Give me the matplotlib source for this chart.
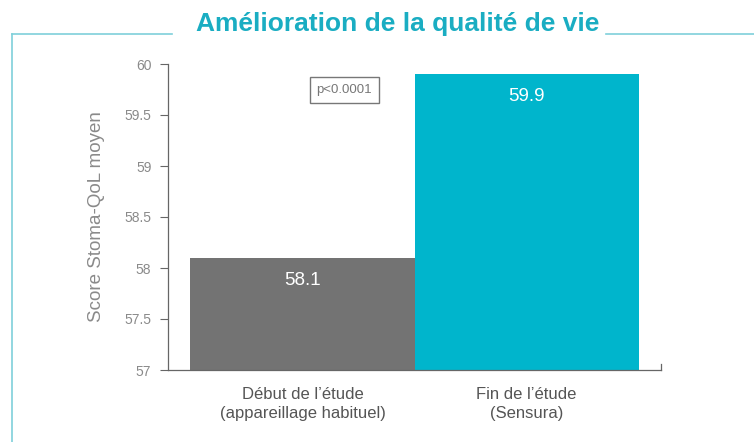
import matplotlib
matplotlib.use("Agg")
import matplotlib.pyplot as plt
from matplotlib.lines import Line2D

categories = ["Début de l’étude\n(appareillage habituel)", "Fin de l’étude\n(Sensura)"]
values = [58.1, 59.9]
bar_colors = ["#737373", "#00B5CC"]
yticks = [57, 57.5, 58, 58.5, 59, 59.5, 60]
ytick_labels = ["57", "57.5", "58", "58.5", "59", "59.5", "60"]
title = "Amélioration de la qualité de vie"
ylabel = "Score Stoma-QoL moyen"
pvalue_text = "p<0.0001"

plt.rcParams['font.family'] = ['Liberation Sans', 'DejaVu Sans']

fig = plt.figure(figsize=(7.54, 4.42), dpi=100)
ax = fig.add_axes([168/754, 1-370/442, (661-168)/754, (370-64)/442])

x = list(range(len(categories)))
ax.bar(x, [v - 57 for v in values], bottom=57, width=1.0, color=bar_colors, align='center')
ax.set_xlim(-0.6, 1.6)
ax.set_ylim(57, 60)

for xi, v in zip(x, values):
    ax.annotate(f"{v:.1f}", xy=(xi, v), xytext=(0, -16), textcoords='offset points',
                ha='center', va='center', color='white', fontsize=13.5)

ax.set_yticks(yticks)
ax.set_yticklabels(ytick_labels)
ax.tick_params(axis='y', direction='out', length=6, width=0.8, color='#666666',
               labelcolor='#8a8a8a', labelsize=10, pad=6)
ax.set_xticks(x)
ax.set_xticklabels(categories, linespacing=1.35)
ax.tick_params(axis='x', length=0, labelcolor='#555555', labelsize=12, pad=12)

ax.spines['top'].set_visible(False)
ax.spines['right'].set_bounds(57, 57.06)
for s in ['left', 'bottom', 'right']:
    ax.spines[s].set_color('#666666')
    ax.spines[s].set_linewidth(0.9)

ax.set_ylabel(ylabel, color='#8a8a8a', fontsize=13.5, labelpad=14)

ax.text(0.187, 59.745, pvalue_text, ha='center', va='center', fontsize=9.5, color='#777777',
        bbox=dict(boxstyle='square,pad=0.5', fc='white', ec='#777777', lw=1.0))

# frame lines
fc = '#7FD0DA'
fig.add_artist(Line2D([12/754, 12/754], [0, 1-34/442], color=fc, lw=1.2, transform=fig.transFigure))
fig.add_artist(Line2D([12/754, 172/754], [1-34/442, 1-34/442], color=fc, lw=1.2, transform=fig.transFigure))
fig.add_artist(Line2D([606/754, 1.0], [1-34/442, 1-34/442], color=fc, lw=1.2, transform=fig.transFigure))

fig.text(398/754, 1-24/442, title, ha='center', va='center', color='#1AADC2', fontsize=19,
         fontweight='bold')

fig.savefig("out.png", dpi=100)
